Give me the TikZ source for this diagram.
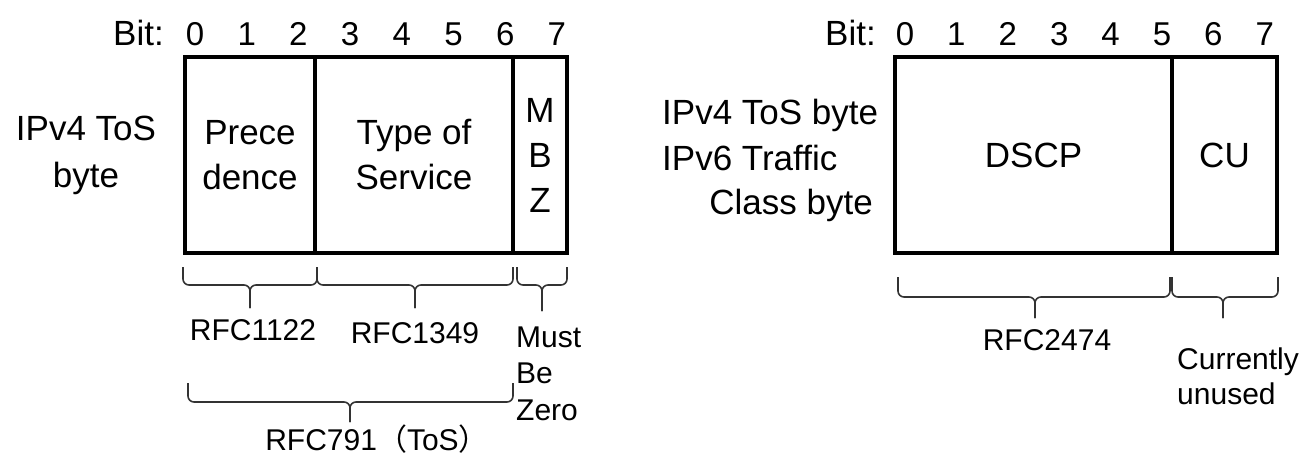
\documentclass[tikz,border=0pt]{standalone}
\usepackage{fontspec}
\setmainfont{Liberation Sans}
\newfontfamily\cjk{Noto Sans CJK SC}
\tikzset{
  bigtext/.style={font=\fontsize{35}{45}\selectfont, inner sep=0pt},
  smalltext/.style={font=\fontsize{30}{36.5}\selectfont, inner sep=0pt},
  field/.style={draw, line width=3.2pt, inner sep=0pt, outer sep=0pt,
    minimum height=196pt, bigtext, align=center},
  bitnum/.style={font=\fontsize{33}{40}\selectfont, inner sep=0pt, anchor=base},
  bracepart/.style={line width=1.6pt, black!80, rounded corners=6pt}
}
% brace under a group of fields: x1, x2, xtip, ytop, ymid, ytip
\newcommand{\fieldbrace}[6]{%
  \draw[bracepart] (#1,#4) -- (#1,#5) -- (#3,#5) -- (#3,#6);
  \draw[bracepart] (#2,#4) -- (#2,#5) -- (#3,#5) -- (#3,#6);
}
\begin{document}
\begin{tikzpicture}[x=1pt, y=-1pt]
\useasboundingbox (0,0) rectangle (1305,457);

% left: IPv4 ToS byte (old meaning)
\node[bigtext, anchor=base east] (bitl) at (164,46) {Bit:};
\foreach \i in {0,...,7}
  \node[bitnum] (lb\i) at ({195+51.7*\i},46) {\i};
\node[bigtext, align=center, font=\fontsize{35}{47}\selectfont] (tosl) at (86,155) {IPv4 ToS\\byte};
\node[field, minimum width=130pt] (prec) at (250,155) {Prece\\dence};
\node[field, minimum width=198pt] (tos) at (414,155) {Type of\\Service};
\node[field, minimum width=54pt] (mbz) at (540,155) {M\\B\\Z};

\fieldbrace{183}{317}{250}{267}{285}{308}
\fieldbrace{317}{513}{415}{267}{285}{308}
\fieldbrace{517}{567}{542}{267}{285}{311}
\node[smalltext] (rfc1122) at (253,330) {RFC1122};
\node[smalltext] (rfc1349) at (415,333) {RFC1349};
\node[smalltext, align=left, anchor=west] (mbe) at (516,373.4) {Must\\Be\\Zero};

\fieldbrace{188}{513}{350}{383}{402}{422}
\node[smalltext, anchor=base] (rfc791) at (377,450) {RFC791{\cjk （}ToS{\cjk ）}};

% right: DS field
\node[bigtext, anchor=base east] (bitr) at (876,46) {Bit:};
\foreach \i in {0,...,7}
  \node[bitnum] (rb\i) at ({905+51.4*\i},46) {\i};
\node[bigtext, anchor=base west] (tosr) at (662,124.5) {IPv4 ToS byte};
\node[bigtext, anchor=base west] (tc1) at (662,170.5) {IPv6 Traffic};
\node[bigtext, anchor=base east] (tc2) at (873,214.5) {Class byte};
\node[field, minimum width=277pt] (dscp) at (1033.5,155) {DSCP};
\node[field, minimum width=105pt] (cu) at (1224.5,155) {CU};

\fieldbrace{898}{1170}{1035}{277}{297}{318}
\fieldbrace{1172}{1278}{1223}{277}{297}{318}
\node[smalltext] (rfc2474) at (1047,340) {RFC2474};
\node[smalltext, align=left, anchor=west, font=\fontsize{30}{35}\selectfont] (cun) at (1177,376) {Currently\\unused};
\end{tikzpicture}
\end{document}
